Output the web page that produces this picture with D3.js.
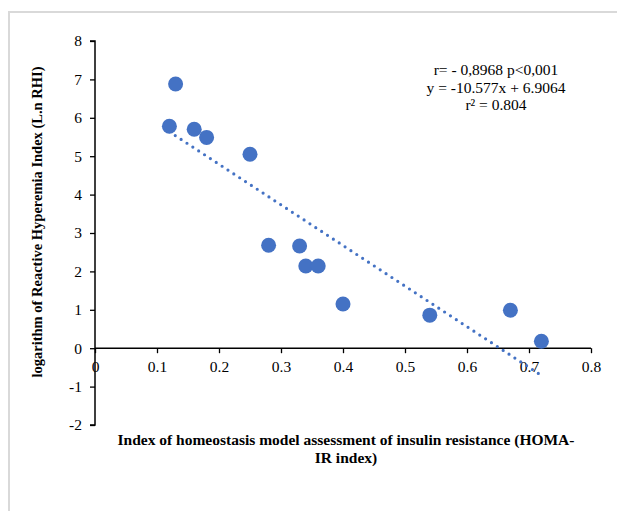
<!DOCTYPE html>
<html><head><meta charset="utf-8">
<script src="https://cdn.jsdelivr.net/npm/d3@7"></script>
<style>body{margin:0;background:#fff}svg{display:block}</style>
</head><body>
<svg id="c" width="617" height="511"></svg>
<script>
const homaIR = [0.13, 0.12, 0.16, 0.18, 0.25, 0.28, 0.33, 0.34, 0.36, 0.40, 0.54, 0.67, 0.72];
const lnRHI  = [6.88, 5.78, 5.70, 5.49, 5.05, 2.68, 2.66, 2.14, 2.14, 1.15, 0.86, 0.99, 0.18];
const xTicks = [0, 0.1, 0.2, 0.3, 0.4, 0.5, 0.6, 0.7, 0.8];
const yTicks = [-2, -1, 0, 1, 2, 3, 4, 5, 6, 7, 8];
const slope = -10.577, intercept = 6.9064;
const trendRange = [0.12, 0.72];
const annotation = ["r= - 0,8968 p<0,001", "y = -10.577x + 6.9064", "r\u00b2 = 0.804"];
const xTitle = ["Index of homeostasis model assessment of insulin resistance (HOMA-", "IR index)"];
const yTitle = "logarithm of Reactive Hyperemia Index (L.n RHI)";

const svg = d3.select("#c");
const font = "'Liberation Serif','Times New Roman',serif";
const blue = "#4472C4";

// frame
svg.append("path").attr("d","M9,511 V12 H617").attr("fill","none").attr("stroke","#d9d9d9").attr("stroke-width",2);

const x = d3.scaleLinear().domain([0,0.8]).range([95,591]);
const y = d3.scaleLinear().domain([-2,8]).range([425,41]);

// y axis
const ya = svg.append("g").attr("transform",`translate(${x(0)},0)`)
  .call(d3.axisLeft(y).tickValues(yTicks).tickSize(5).tickPadding(8).tickFormat(d => String(d)));
ya.select(".domain").attr("d",`M-5,${y(8)}H0V${y(-2)}H-5`).attr("stroke","#000").attr("stroke-width",1.5);
ya.selectAll(".tick line").attr("stroke","#000").attr("stroke-width",1.3);
ya.selectAll("text").attr("font-family",font).attr("font-size",15.5).attr("fill","#000");

// x axis at y=0
const xa = svg.append("g").attr("transform",`translate(0,${y(0)})`)
  .call(d3.axisBottom(x).tickValues(xTicks).tickSize(5).tickPadding(8).tickFormat(d => d===0 ? "0" : d3.format(".1f")(d)));
xa.select(".domain").attr("d",`M${x(0)},0H${x(0.8)}`).attr("stroke","#000").attr("stroke-width",1.5);
xa.selectAll(".tick line").attr("stroke","#000").attr("stroke-width",1.3);
xa.selectAll("text").attr("font-family",font).attr("font-size",15.5).attr("fill","#000");

// points
const pts = homaIR.map((v,i)=>({x:v,y:lnRHI[i]}));
svg.append("g").selectAll("circle").data(pts).join("circle")
  .attr("cx",d=>x(d.x)).attr("cy",d=>y(d.y)).attr("r",7.5).attr("fill",blue);

// trendline
svg.append("line")
  .attr("x1",x(trendRange[0])).attr("y1",y(slope*trendRange[0]+intercept))
  .attr("x2",x(trendRange[1])).attr("y2",y(slope*trendRange[1]+intercept))
  .attr("stroke",blue).attr("stroke-width",3.2).attr("stroke-linecap","round").attr("stroke-dasharray","0 7");

// annotation
svg.append("g").selectAll("text").data(annotation).join("text")
  .attr("x",496).attr("y",(d,i)=>75+i*17.5).attr("text-anchor","middle")
  .attr("font-family",font).attr("font-size",15.5).attr("fill","#000").text(d=>d);

// axis titles
svg.append("g").selectAll("text").data(xTitle).join("text")
  .attr("x",346).attr("y",(d,i)=>445+i*17.5).attr("text-anchor","middle")
  .attr("font-family",font).attr("font-size",15.5).attr("font-weight","bold").attr("fill","#000").text(d=>d);
svg.append("text").attr("transform","translate(42,222) rotate(-90)").attr("text-anchor","middle")
  .attr("font-family",font).attr("font-size",14.5).attr("font-weight","bold").attr("fill","#000").text(yTitle);
</script>
</body></html>
